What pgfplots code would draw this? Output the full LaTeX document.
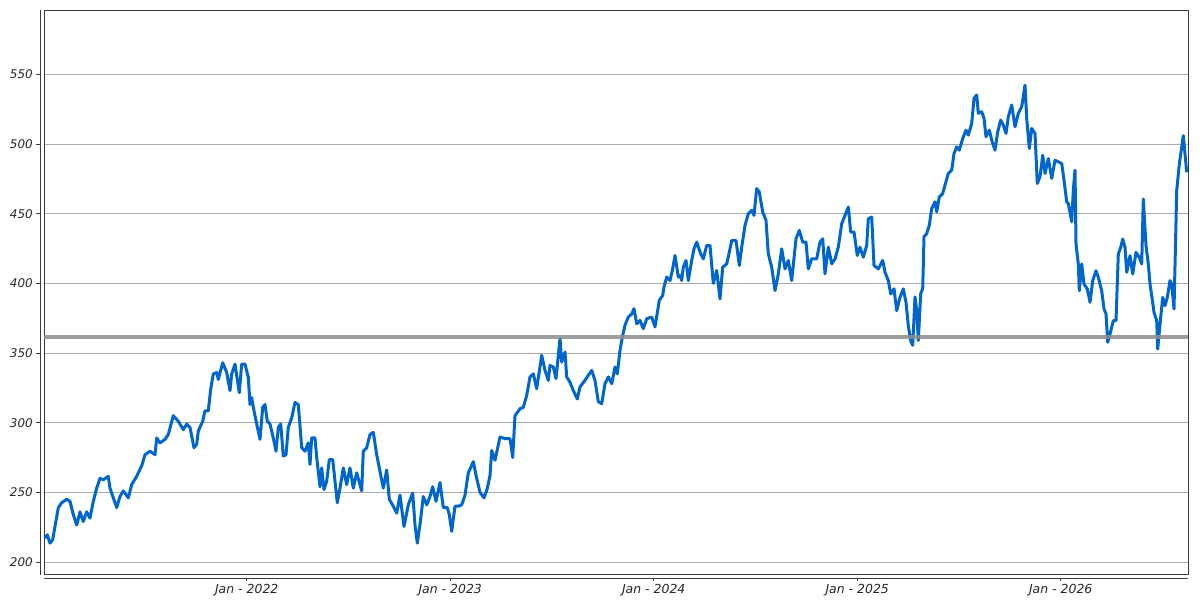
\documentclass[border=0pt]{standalone}
\usepackage{pgfplots}
\pgfplotsset{compat=1.18}
\usepackage{pgfplotstable}
\usepackage{fontspec}
\setmainfont{DejaVu Sans}
\definecolor{lineblue}{RGB}{0,102,204}
\definecolor{gridgray}{RGB}{170,170,170}
\definecolor{bandgray}{RGB}{140,140,140}
\definecolor{framegray}{RGB}{60,60,60}
% x = horizontal position on the time axis (Jan-2022 at 246.7, one year = 203.5), y = price
\pgfplotstableread{
x y
45.0 217
47.3 219.5
50.0 213.5
52.7 216
55.0 225.5
58.3 239
61.7 242.5
66.7 245
70.0 243.5
73.3 234
76.7 226.5
80.0 236
83.3 229
86.7 236
90.0 231.5
93.3 243.5
96.7 253
100.0 260
103.3 259
108.3 261.5
110.0 253
113.3 246
116.7 239
120.0 247
123.3 251
128.3 246
131.7 255.5
136.7 261.5
141.7 269
145.0 277
150.0 279.5
155.0 277
156.7 289
160.0 285.5
165.0 288
168.3 291.5
173.3 305
178.3 301
183.3 295
186.7 299
190.0 296.5
194.0 282
196.7 284.5
198.3 294
202.7 301
205.0 308.5
208.3 308.5
210.7 324
213.3 335
216.7 336
218.3 331
222.7 343
226.7 336
230.0 323
231.7 335
235.0 342
239.3 321.5
241.7 342
245.0 342
248.3 332.5
250.0 313
251.7 318
253.3 311
256.7 299
260.0 288
262.7 311
265.0 313
267.3 301
270.0 299
273.3 289
276.0 279.5
278.3 296.5
280.7 299
283.3 276
286.0 277
288.3 296.5
291.7 303.5
295.0 314.5
298.3 313
301.7 282
305.0 279.5
308.3 285.5
310.0 270
311.7 289
315.0 289
316.7 275
320.0 254
321.7 267.5
324.0 252
326.7 258
329.3 273.5
332.7 273.5
335.0 258
337.3 242.5
340.0 253
343.3 267.5
346.7 255.5
350.0 267.5
353.3 253
356.7 264
361.7 251
363.3 279.5
366.7 282
370.0 291.5
373.3 293
376.7 277
380.0 265
383.3 253
386.7 266
389.3 245
393.3 240
396.7 235
400.0 248
404.0 225.5
408.3 241
412.7 249.5
415.0 226.5
417.3 213.5
420.0 227
423.3 247
426.7 241
430.0 247
432.7 254
436.0 243.5
440.0 257
443.3 239
447.3 239
449.3 234
451.7 222
455.0 240
458.3 240
461.7 241
465.0 248
468.3 264
473.3 272
476.7 260
480.0 250
484.0 246
487.0 252
490.0 262
491.7 280
495.0 273
500.0 289.7
505.0 288.5
510.0 288.5
512.7 275
515.0 305
520.0 310
523.3 311
526.7 319.6
530.0 332.8
533.3 335
536.7 324.4
541.7 348.3
545.0 337.5
548.3 330.4
550.0 341
553.3 340
556.0 331.6
560.0 360.3
561.7 343.5
565.0 350.7
566.7 332.8
570.0 329
573.3 323
577.3 317
580.0 325.6
585.0 330.4
588.3 334
591.7 337.5
595.0 330.4
598.3 315
601.7 313.6
605.0 328
608.3 332.8
611.7 328
615.0 340
617.3 335
620.0 352
622.7 362.7
625.0 370
628.3 375.8
631.7 378
634.0 381.8
636.7 371
640.0 373.4
643.3 367.5
646.7 374.6
651.7 375.8
655.0 368.7
659.3 387.8
662.7 391.4
664.0 397.4
666.7 404.5
670.0 402
672.7 410.5
675.0 420
678.3 404.5
680.0 405.7
681.7 402
683.3 411.6
686.0 416.4
688.3 402
691.7 416.4
694.0 424.8
696.7 429.6
700.7 421.2
703.3 417.6
706.7 427.2
710.0 427.2
713.3 400
716.7 409.2
720.0 388.8
722.7 411.6
726.7 414
729.3 422.4
731.7 430.8
736.0 430.8
739.3 412.8
741.7 426
745.0 441.6
748.3 450
751.7 452.4
754.0 448.8
756.7 468
759.3 465.6
762.7 451.2
766.0 445.2
768.3 421.2
771.7 411.6
775.0 394.8
778.3 406.8
781.7 424.8
785.0 410.4
788.3 416.4
791.7 402
796.0 432
799.3 438
802.7 429.6
806.0 429.6
808.3 410.4
811.7 417.6
816.7 417.6
820.0 429.6
822.7 432
825.0 406.8
828.3 426
831.7 414
835.0 417.6
838.3 426
841.7 442.8
845.0 448.8
848.3 454.8
850.7 436.8
854.0 436.8
857.3 420
860.0 426
863.3 418.8
866.7 427.2
868.3 446.4
871.7 447.6
874.0 412.8
878.3 410.4
882.7 416.4
885.0 408
888.3 402
890.7 392.4
894.0 396
896.7 380.4
900.0 390
903.3 396
906.0 386.4
908.3 369.6
910.7 358.8
912.7 355.5
915.0 390.2
916.7 380.7
918.3 359
920.7 392.6
922.7 396.2
924.0 433.4
926.7 435.7
929.3 441.7
931.7 453.7
935.0 458.5
936.7 451.3
939.3 462.1
942.7 464.5
945.0 470.5
948.3 478.9
951.7 481.3
954.0 493.2
956.7 498
959.3 495.6
962.7 504
966.0 510
968.3 506.4
971.7 514.8
974.0 532.8
976.7 535.2
978.3 522
981.7 523.2
984.0 518.4
986.0 505.2
989.3 510
991.7 502.8
995.0 495.6
997.7 508.8
1000.7 517.2
1003.3 513.6
1006.0 507.6
1008.3 519.6
1011.7 528
1015.0 512.4
1018.3 522
1021.7 526.8
1025.0 542.3
1026.7 518.4
1029.3 496.8
1031.7 511.2
1035.0 507.6
1037.3 471.7
1040.0 476.5
1042.7 492
1045.0 478.9
1048.3 489.6
1051.7 475.3
1055.0 488.4
1058.3 487.2
1061.7 486
1064.0 474.1
1066.7 458.5
1068.3 457.3
1071.7 444.2
1073.3 466.9
1075.0 481.3
1076.0 428.2
1078.3 413.9
1079.3 394.7
1081.7 413.9
1084.0 399.5
1087.3 395.9
1090.0 386.4
1092.7 401.9
1096.0 409.1
1098.3 404.3
1101.7 394.7
1104.0 381.6
1106.0 378
1107.7 357.7
1110.0 363.6
1113.3 373.2
1116.0 373.2
1118.3 421.1
1120.7 425.8
1122.7 431.8
1125.0 425.8
1126.7 407.9
1130.0 419.9
1132.7 406.7
1136.0 422.2
1139.3 418.7
1141.7 413.9
1143.3 460.5
1146.0 427
1148.3 413.9
1150.0 399.5
1151.7 391.1
1154.0 379.2
1156.7 373.2
1157.7 352.9
1160.0 370.8
1162.7 389.9
1165.0 384
1167.3 389.9
1170.0 401.9
1171.7 399.5
1174.0 381.6
1176.7 466.5
1179.3 485.6
1181.7 497.6
1183.3 506
1185.0 492.8
1186.7 479.7
}\pricedata
\begin{document}
\begin{tikzpicture}
\begin{axis}[
  at={(44bp,25.5bp)}, anchor=south west,
  scale only axis, width=1144bp, height=564.2bp,
  xmin=44, xmax=1188, ymin=191, ymax=596,
  clip=false,
  axis line style={framegray, line width=0.9bp},
  ytick={200,250,300,350,400,450,500,550},
  xtick={246.7,450.2,653.7,857.2,1060.7},
  xticklabels={Jan - 2022,Jan - 2023,Jan - 2024,Jan - 2025,Jan - 2026},
  major tick length=0pt,
  ymajorgrids, grid style={gridgray, line width=0.9bp},
  /pgf/number format/assume math mode=true,
  ticklabel style={font=\fontsize{12}{14}\selectfont\itshape, text=black!85},
  yticklabel style={anchor=east, inner sep=0pt, xshift=-11bp},
  xticklabel style={anchor=north, inner sep=0pt, yshift=-9.5bp, font=\fontsize{12.5}{14}\selectfont\itshape},
]
\addplot[lineblue, line width=3bp, line join=round, no markers] table[x=x,y=y] {\pricedata};
\addplot[bandgray, opacity=0.85, line width=4.3bp, no markers] coordinates {(44,361.3) (1188,361.3)};
% detached outer axis lines and tick marks
\draw[framegray, line width=0.9bp] ([xshift=-3.5bp]rel axis cs:0,0) -- ([xshift=-3.5bp]rel axis cs:0,1);
\draw[framegray, line width=0.9bp] ([yshift=-3.8bp]rel axis cs:0,0) -- ([yshift=-3.8bp]rel axis cs:1,0);
\pgfplotsinvokeforeach{200,250,300,350,400,450,500,550}{
  \draw[framegray, line width=0.9bp] ([xshift=-7.5bp]axis cs:44,#1) -- ([xshift=-3.5bp]axis cs:44,#1);
}
\pgfplotsinvokeforeach{246.7,450.2,653.7,857.2,1060.7}{
  \draw[framegray, line width=0.9bp] ([yshift=-3.8bp]axis cs:#1,191) -- ([yshift=-6.8bp]axis cs:#1,191);
}
\end{axis}
\pgfresetboundingbox
\path (0,0) rectangle (1200bp,600bp);
\end{tikzpicture}
\end{document}
